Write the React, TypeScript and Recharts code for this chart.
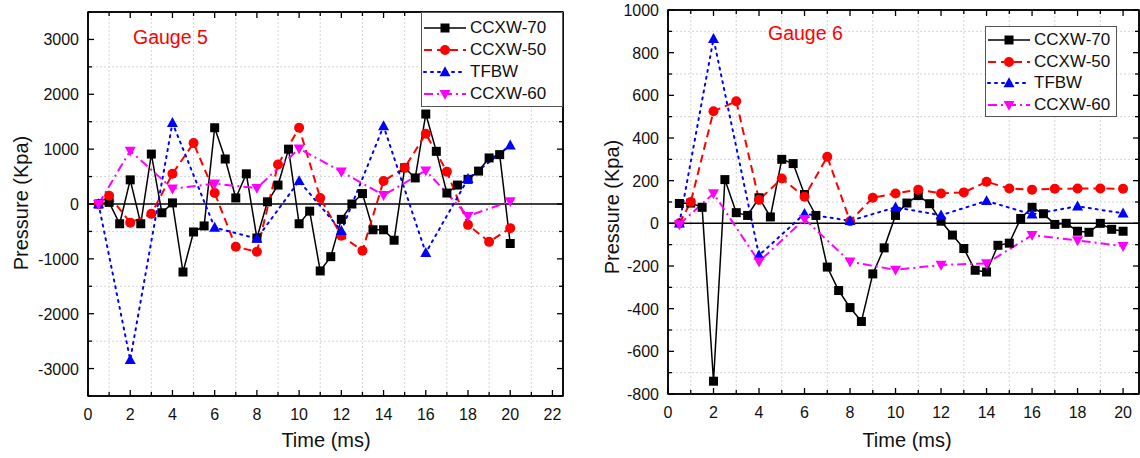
import { LineChart, Line, XAxis, YAxis, ReferenceLine, ReferenceArea } from "recharts";

// time bases (ms)
const halfStepTimes = [0.5, 1, 1.5, 2, 2.5, 3, 3.5, 4, 4.5, 5, 5.5, 6, 6.5, 7, 7.5, 8, 8.5, 9, 9.5, 10, 10.5, 11, 11.5, 12, 12.5, 13, 13.5, 14, 14.5, 15, 15.5, 16, 16.5, 17, 17.5, 18, 18.5, 19, 19.5, 20];
const unitStepTimes = [0.5, 1, 2, 3, 4, 5, 6, 7, 8, 9, 10, 11, 12, 13, 14, 15, 16, 17, 18, 19, 20];
const evenStepTimes = [0.5, 2, 4, 6, 8, 10, 12, 14, 16, 18, 20];

// Gauge 5 (kPa)
const g5Ccxw70 = [0, 30, -360, 440, -360, 910, -160, 20, -1240, -510, -400, 1390, 820, 110, 550, -620, 40, 345, 1000, -360, -130, -1220, -960, -280, 0, 190, -470, -470, -660, 660, 475, 1640, 960, 200, 345, 450, 600, 840, 900, -720];
const g5Ccxw50 = [0, 150, -340, -180, 550, 1110, 200, -780, -870, 720, 1390, 110, -580, -850, 420, 660, 1280, 590, -380, -690, -440];
const g5Tfbw = [0, -2840, 1480, -430, -630, 420, -490, 1420, -890, 460, 1070];
const g5Ccxw60 = [0, 970, 280, 370, 290, 1010, 590, 160, 610, -220, 50];

// Gauge 6 (kPa)
const g6Ccxw70 = [93, 95, 75, -740, 205, 50, 37, 120, 30, 300, 280, 135, 37, -205, -315, -395, -460, -237, -115, 37, 95, 130, 92, 10, -55, -118, -220, -228, -103, -93, 23, 75, 45, -5, 0, -37, -42, 0, -28, -37];
const g6Ccxw50 = [0, 100, 525, 572, 110, 210, 125, 312, 10, 120, 140, 158, 140, 145, 195, 163, 158, 162, 163, 163, 162];
const g6Tfbw = [0, 865, -150, 45, 12, 75, 38, 105, 42, 80, 47];
const g6Ccxw60 = [-5, 140, -180, 20, -180, -218, -195, -188, -55, -80, -107];

// axes
const g5TimeTicks = [0, 1, 2, 3, 4, 5, 6, 7, 8, 9, 10, 11, 12, 13, 14, 15, 16, 17, 18, 19, 20, 21, 22];
const g5PressureTicks = [-3500, -3000, -2500, -2000, -1500, -1000, -500, 0, 500, 1000, 1500, 2000, 2500, 3000, 3500];
const g5GridTimes = [1, 3, 5, 7, 9, 11, 13, 15, 17, 19, 21];
const g5GridPressures = [-2500, -1500, -500, 500, 1500, 2500];

const g6TimeTicks = [0, 1, 2, 3, 4, 5, 6, 7, 8, 9, 10, 11, 12, 13, 14, 15, 16, 17, 18, 19, 20];
const g6PressureTicks = [-800, -700, -600, -500, -400, -300, -200, -100, 0, 100, 200, 300, 400, 500, 600, 700, 800, 900, 1000];
const g6GridTimes = [1, 3, 5, 7, 9, 11, 13, 15, 17, 19];
const g6GridPressures = [-700, -500, -300, -100, 100, 300, 500, 700, 900];

const seriesNames = ["CCXW-70", "CCXW-50", "TFBW", "CCXW-60"];

const FONT = '"Liberation Sans", Arial, sans-serif';

type Shape = "square" | "circle" | "up" | "down";

const seriesStyle: { color: string; dash?: string; width: number; shape: Shape; size: number }[] = [
  { color: "#000000", width: 1.5, shape: "square", size: 9 },
  { color: "#ff0000", dash: "8 5", width: 2, shape: "circle", size: 10 },
  { color: "#0000ff", dash: "2 5", width: 2, shape: "up", size: 11 },
  { color: "#ff00ff", dash: "9 4 2 4", width: 2, shape: "down", size: 11 },
];

const zip = (times: number[], values: number[]) => times.map((t, i) => ({ t, p: values[i] }));

function Marker({ shape, cx, cy, color, size }: { shape: Shape; cx: number; cy: number; color: string; size: number }) {
  const h = size / 2;
  if (shape === "square") return <rect x={cx - h} y={cy - h} width={size} height={size} fill={color} />;
  if (shape === "circle") return <circle cx={cx} cy={cy} r={h} fill={color} />;
  if (shape === "up")
    return <polygon points={`${cx},${cy - h * 1.05} ${cx - h},${cy + h * 0.75} ${cx + h},${cy + h * 0.75}`} fill={color} />;
  return <polygon points={`${cx},${cy + h * 1.05} ${cx - h},${cy - h * 0.75} ${cx + h},${cy - h * 0.75}`} fill={color} />;
}

const isMajor = (v: number, step: number) => Math.abs(v % step) < 1e-9;

const xTick = (side: "bottom" | "top", step: number) => (p: any) => {
  const v = p.payload.value;
  const major = isMajor(v, step);
  const len = major ? 6 : 4;
  const dir = side === "bottom" ? -1 : 1;
  return (
    <g key={`${side}-${v}`}>
      <line x1={p.x} x2={p.x} y1={p.y} y2={p.y + dir * len} stroke="#000" strokeWidth={1.3} />
      {side === "bottom" && major && (
        <text x={p.x} y={p.y + 24} textAnchor="middle" fontSize={16} fontFamily={FONT} fill="#111">
          {v}
        </text>
      )}
    </g>
  );
};

const yTick = (side: "left" | "right", step: number) => (p: any) => {
  const v = p.payload.value;
  const major = isMajor(v, step);
  const len = major ? 6 : 4;
  const dir = side === "left" ? 1 : -1;
  return (
    <g key={`${side}-${v}`}>
      <line x1={p.x} x2={p.x + dir * len} y1={p.y} y2={p.y} stroke="#000" strokeWidth={1.3} />
      {side === "left" && major && (
        <text x={p.x - 9} y={p.y + 6} textAnchor="end" fontSize={16} fontFamily={FONT} fill="#111">
          {v}
        </text>
      )}
    </g>
  );
};

interface PanelProps {
  left: number;
  width: number;
  top: number;
  bottom: number;
  yAxisWidth: number;
  xDomain: [number, number];
  xTicks: number[];
  yDomain: [number, number];
  yTicks: number[];
  yStep: number;
  gridX: number[];
  gridY: number[];
  series: { t: number; p: number }[][];
}

function Panel(props: PanelProps) {
  const { left, width, top, bottom, yAxisWidth, xDomain, xTicks, yDomain, yTicks, yStep, gridX, gridY, series } = props;
  const axisLine = { stroke: "#000", strokeWidth: 1.5 };
  return (
    <div style={{ position: "absolute", left, top: 0 }}>
      <LineChart width={width} height={458} margin={{ top: top - 1, right: 0, left: 0, bottom: 0 }}>
        <XAxis
          xAxisId={0}
          dataKey="t"
          type="number"
          domain={xDomain}
          ticks={xTicks}
          interval={0}
          height={458 - bottom}
          tickSize={0}
          tickMargin={0}
          allowDataOverflow
          stroke="#000"
          axisLine={axisLine}
          tick={xTick("bottom", 2)}
        />
        <XAxis
          xAxisId="top"
          orientation="top"
          dataKey="t"
          type="number"
          domain={xDomain}
          ticks={xTicks}
          interval={0}
          height={1}
          tickSize={0}
          tickMargin={0}
          allowDataOverflow
          stroke="#000"
          axisLine={axisLine}
          tick={xTick("top", 2)}
        />
        <YAxis
          yAxisId={0}
          type="number"
          domain={yDomain}
          ticks={yTicks}
          interval={0}
          width={yAxisWidth}
          tickSize={0}
          tickMargin={0}
          allowDataOverflow
          stroke="#000"
          axisLine={axisLine}
          tick={yTick("left", yStep)}
        />
        <YAxis
          yAxisId="right"
          orientation="right"
          type="number"
          domain={yDomain}
          ticks={yTicks}
          interval={0}
          width={1}
          tickSize={0}
          tickMargin={0}
          allowDataOverflow
          stroke="#000"
          axisLine={axisLine}
          tick={yTick("right", yStep)}
        />
        {gridX.map((v) => (
          <ReferenceLine key={`gx${v}`} x={v} stroke="#d6d6d6" strokeDasharray="2 2" strokeWidth={1} />
        ))}
        {gridY.map((v) => (
          <ReferenceLine key={`gy${v}`} y={v} stroke="#d6d6d6" strokeDasharray="2 2" strokeWidth={1} />
        ))}
        <ReferenceArea x1={xDomain[0]} x2={xDomain[1]} y1={yDomain[0]} y2={yDomain[1]} fill="none" stroke="#000" strokeWidth={1.5} />
        <ReferenceLine y={0} stroke="#000" strokeWidth={1.5} />
        {/* invisible series so the mirrored top / right axes get drawn */}
        <Line
          xAxisId="top"
          yAxisId="right"
          data={series[0]}
          dataKey="p"
          stroke="none"
          dot={false}
          activeDot={false}
          legendType="none"
          isAnimationActive={false}
        />
        {series.map((data, i) => {
          const s = seriesStyle[i];
          return (
            <Line
              key={seriesNames[i]}
              data={data}
              dataKey="p"
              name={seriesNames[i]}
              type="linear"
              stroke={s.color}
              strokeWidth={s.width}
              strokeDasharray={s.dash}
              strokeLinecap={s.shape === "up" ? "round" : "butt"}
              isAnimationActive={false}
              dot={(d: any) => <Marker key={`${i}-${d.index}`} shape={s.shape} cx={d.cx} cy={d.cy} color={s.color} size={s.size} />}
              activeDot={false}
            />
          );
        })}
      </LineChart>
    </div>
  );
}

function LegendBox({ left, top, width, height, rowTop, rowGap }: { left: number; top: number; width: number; height: number; rowTop: number; rowGap: number }) {
  return (
    <div
      style={{
        position: "absolute",
        left,
        top,
        width,
        height,
        border: "1px solid #555",
        background: "#fff",
        boxSizing: "border-box",
      }}
    >
      {seriesNames.map((name, i) => {
        const s = seriesStyle[i];
        return (
          <div key={name} style={{ position: "absolute", left: 1, top: rowTop + i * rowGap - 11, height: 22, display: "flex", alignItems: "center" }}>
            <svg width={44} height={22}>
              <line x1={1} x2={43} y1={11} y2={11} stroke={s.color} strokeWidth={s.width} strokeDasharray={s.dash} strokeLinecap={s.shape === "up" ? "round" : "butt"} />
              <Marker shape={s.shape} cx={22} cy={11} color={s.color} size={s.size} />
            </svg>
            <span style={{ fontFamily: FONT, fontSize: 17, color: "#111", marginLeft: 3, whiteSpace: "nowrap" }}>{name}</span>
          </div>
        );
      })}
    </div>
  );
}

const textStyle = { position: "absolute" as const, fontFamily: FONT, color: "#111", whiteSpace: "nowrap" as const };

export default function App() {
  const g5 = [zip(halfStepTimes, g5Ccxw70), zip(unitStepTimes, g5Ccxw50), zip(evenStepTimes, g5Tfbw), zip(evenStepTimes, g5Ccxw60)];
  const g6 = [zip(halfStepTimes, g6Ccxw70), zip(unitStepTimes, g6Ccxw50), zip(evenStepTimes, g6Tfbw), zip(evenStepTimes, g6Ccxw60)];
  return (
    <div style={{ position: "absolute", left: 0, top: 0, width: 1140, height: 458, background: "#fff", overflow: "hidden" }}>
      <Panel
        left={0}
        width={564}
        top={12}
        bottom={396}
        yAxisWidth={88}
        xDomain={[0, 22.5]}
        xTicks={g5TimeTicks}
        yDomain={[-3500, 3500]}
        yTicks={g5PressureTicks}
        yStep={1000}
        gridX={g5GridTimes}
        gridY={g5GridPressures}
        series={g5}
      />
      <Panel
        left={580}
        width={560}
        top={10}
        bottom={394}
        yAxisWidth={88}
        xDomain={[0, 20.7]}
        xTicks={g6TimeTicks}
        yDomain={[-800, 1000]}
        yTicks={g6PressureTicks}
        yStep={200}
        gridX={g6GridTimes}
        gridY={g6GridPressures}
        series={g6}
      />
      <LegendBox left={421} top={12} width={142} height={95} rowTop={15} rowGap={22} />
      <LegendBox left={985} top={26} width={132} height={91} rowTop={13} rowGap={21.7} />
      <div style={{ ...textStyle, left: 133, top: 26, fontSize: 19.5, color: "#ff0000" }}>Gauge 5</div>
      <div style={{ ...textStyle, left: 768, top: 22, fontSize: 19.5, color: "#ff0000" }}>Gauge 6</div>
      <div style={{ ...textStyle, left: 21, top: 203, fontSize: 20, transform: "translate(-50%, -50%) rotate(-90deg)" }}>Pressure (Kpa)</div>
      <div style={{ ...textStyle, left: 612, top: 207, fontSize: 20, transform: "translate(-50%, -50%) rotate(-90deg)" }}>Pressure (Kpa)</div>
      <div style={{ ...textStyle, left: 326, top: 440, fontSize: 20, transform: "translate(-50%, -50%)" }}>Time (ms)</div>
      <div style={{ ...textStyle, left: 907, top: 440, fontSize: 20, transform: "translate(-50%, -50%)" }}>Time (ms)</div>
    </div>
  );
}
